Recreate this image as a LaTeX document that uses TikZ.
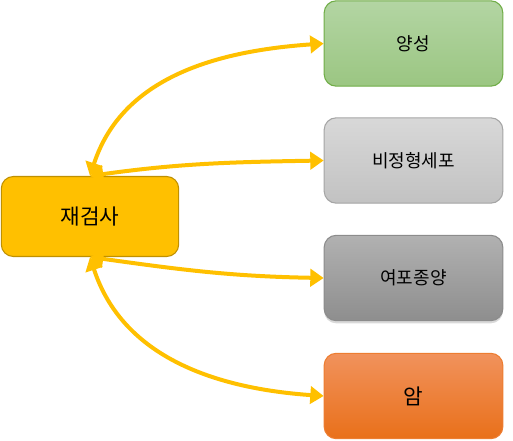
\documentclass[tikz,border=0pt]{standalone}
\usepackage{fontspec}
\setmainfont{Noto Sans CJK KR}
\usepackage{tikz}
\usetikzlibrary{positioning,arrows.meta,shadows}

\definecolor{gold}{HTML}{FFC000}
\definecolor{golddark}{HTML}{BF9000}
\definecolor{greenline}{HTML}{70AD47}
\definecolor{greentop}{HTML}{B3D5A3}
\definecolor{greenbot}{HTML}{9BC682}
\definecolor{greyline}{HTML}{A5A5A5}
\definecolor{greytop}{HTML}{D8D8D8}
\definecolor{greybot}{HTML}{C2C2C2}
\definecolor{darkline}{HTML}{8C8C8C}
\definecolor{darktop}{HTML}{B1B1B1}
\definecolor{darkbot}{HTML}{8E8E8E}
\definecolor{orangeline}{HTML}{ED7D31}
\definecolor{orangetop}{HTML}{F1925C}
\definecolor{orangebot}{HTML}{E9701A}

\tikzset{
	box/.style={draw,rounded corners=9pt,minimum width=134pt,minimum height=64pt,line width=0.8pt,font=\fontsize{13.5}{15}\selectfont},
	link/.style={draw=gold,line width=3pt,{Triangle[length=10pt,width=13pt]}-{Triangle[length=10pt,width=13pt]}}
}

\begin{document}
\begin{tikzpicture}[x=0.75pt,y=-0.75pt]
		
		\useasboundingbox (0,0) rectangle (513,441);
		
		\node[box,fill=gold,draw=golddark,minimum width=133pt,minimum height=60pt,font=\fontsize{16}{18}\selectfont] (R)
		at (90,216.5)
		{재검사};
		
		\node[box,draw=greenline,top color=greentop,bottom color=greenbot] (P)
		at (413.5,43.5)
		{양성};
		
		\node[box,draw=greyline,top color=greytop,bottom color=greybot] (A)
		at (413.5,160.5)
		{비정형세포};
		
		\node[box,draw=darkline,top color=darktop,bottom color=darkbot,drop shadow={opacity=0.3,shadow xshift=0pt,shadow yshift=-2pt}] (F)
		at (413.5,278)
		{여포종양};
		
		\node[box,draw=orangeline,top color=orangetop,bottom color=orangebot,font=\fontsize{16}{18}\selectfont] (C)
		at (413.5,396)
		{암};
		
		\draw[link]
		(R.north) to[out=72,in=184]
		(P.west);
		
		\draw[link]
		(R.north) to[out=8,in=181]
		(A.west);
		
		\draw[link]
		(R.south) to[out=-8,in=179]
		(F.west);
		
		\draw[link]
		(R.south) to[out=-72,in=176]
		(C.west);
		
	\end{tikzpicture}
\end{document}
